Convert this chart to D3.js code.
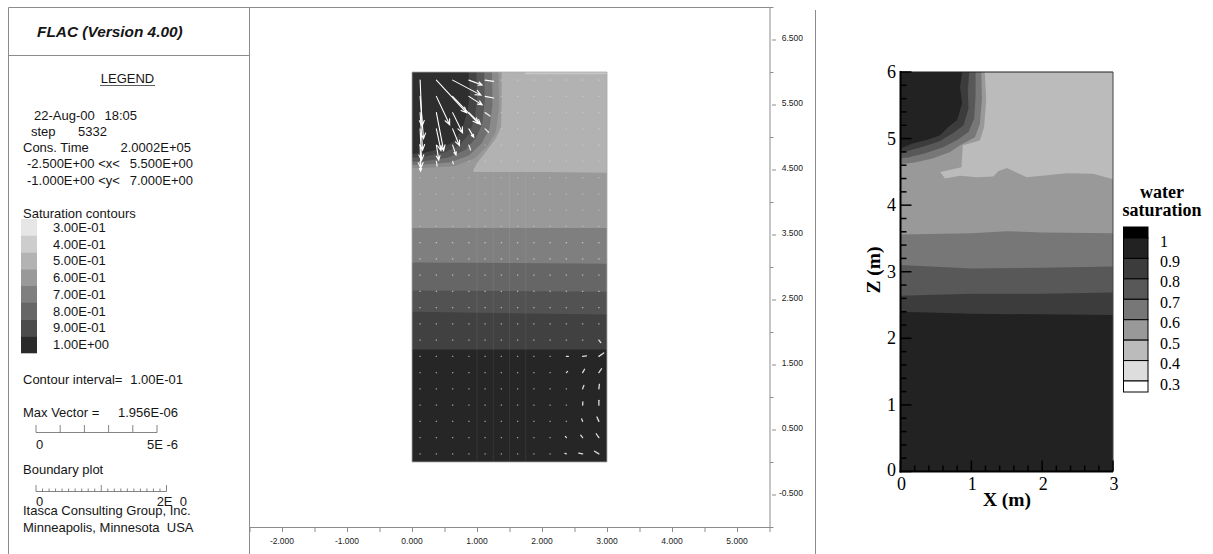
<!DOCTYPE html>
<html>
<head>
<meta charset="utf-8">
<script src="https://cdn.jsdelivr.net/npm/d3@7"></script>
<style>
  body { margin: 0; background: #fff; }
  svg text { white-space: pre; }
</style>
</head>
<body>
<svg id="chart" width="1213" height="554"></svg>
<script>
// ---------------- FLAC panel data ----------------
const flacLegendLabels = ["3.00E-01", "4.00E-01", "5.00E-01", "6.00E-01", "7.00E-01", "8.00E-01", "9.00E-01", "1.00E+00"]
const flacLegendColors = ["#e6e6e6", "#cdcdcd", "#b3b3b3", "#999999", "#7f7f7f", "#666666", "#4c4c4c", "#2a2a2a"]
const flacXTicks = [-2, -1, 0, 1, 2, 3, 4, 5]
const flacYTicks = [-0.5, 0.5, 1.5, 2.5, 3.5, 4.5, 5.5, 6.5]

// horizontal contour bands, each fills from its line up to the top of the block
const flacBandLines = [
    [[0, 1.73], [3, 1.73]],
    [[0, 2.31], [1.5, 2.29], [3, 2.27]],
    [[0, 2.64], [1.5, 2.63], [3, 2.62]],
    [[0, 3.07], [1.5, 3.06], [3, 3.05]],
    [[0, 3.60], [1.5, 3.60], [3, 3.60]]
]
const flacBandColors = ["#414141", "#525252", "#666666", "#7f7f7f", "#999999"]
const flacLightEdge = [[1.38, 6], [1.38, 5.6], [1.37, 5.15], [1.29, 4.98], [1.13, 4.76], [1.0, 4.6], [0.94, 4.49], [0.95, 4.46], [2, 4.46], [3, 4.45]]
const flacTopStrip = [[1.74, 5.965], [3, 5.965], [3, 6], [1.74, 6]]
// saturated corner, outer ring first
const flacRings = [
    [[1.33, 6], [1.34, 5.45], [1.29, 5.08], [1.16, 4.86], [0.96, 4.67], [0.65, 4.55], [0.3, 4.53], [0, 4.52]],
    [[1.23, 6], [1.24, 5.5], [1.19, 5.12], [1.07, 4.9], [0.88, 4.72], [0.6, 4.61], [0.25, 4.58], [0, 4.57]],
    [[1.11, 6], [1.12, 5.55], [1.08, 5.2], [0.98, 4.98], [0.82, 4.8], [0.55, 4.68], [0.2, 4.63], [0, 4.62]],
    [[0.99, 6], [1.0, 5.6], [0.97, 5.3], [0.88, 5.05], [0.74, 4.88], [0.5, 4.76], [0.2, 4.7], [0, 4.68]],
    [[0.87, 6], [0.89, 5.65], [0.85, 5.38], [0.77, 5.12], [0.64, 4.93], [0.45, 4.82], [0.2, 4.76], [0, 4.74]]
]
const flacRingColors = ["#8a8a8a", "#707070", "#585858", "#444444", "#2e2e2e"]

// velocity grid (zone centres) and the non-zero vectors, in 1E-6 m/s
const gridX = [0.125, 0.375, 0.625, 0.875, 1.125, 1.375, 1.625, 1.875, 2.125, 2.375, 2.625, 2.875]
const gridZ = [0.125, 0.375, 0.625, 0.875, 1.125, 1.375, 1.625, 1.875, 2.125, 2.375, 2.625, 2.875,
    3.125, 3.375, 3.625, 3.875, 4.125, 4.375, 4.625, 4.875, 5.125, 5.375, 5.625, 5.875]
const vecX = [0.125, 0.125, 0.125, 0.125, 0.125, 0.125,
    0.375, 0.375, 0.375, 0.375, 0.375, 0.375,
    0.625, 0.625, 0.625, 0.625, 0.625, 0.625,
    0.875, 0.875, 0.875, 0.875, 0.875,
    1.125, 1.125, 1.125, 1.125,
    2.875, 2.375, 2.625, 2.875, 2.375, 2.625, 2.875, 2.625, 2.875, 2.625, 2.875,
    2.625, 2.875, 2.375, 2.625, 2.875, 2.375, 2.625, 2.875]
const vecZ = [5.875, 5.625, 5.375, 5.125, 4.875, 4.625,
    5.875, 5.625, 5.375, 5.125, 4.875, 4.625,
    5.875, 5.625, 5.375, 5.125, 4.875, 4.625,
    5.875, 5.625, 5.375, 5.125, 4.875,
    5.875, 5.625, 5.375, 5.125,
    1.875, 1.625, 1.625, 1.625, 1.375, 1.375, 1.375, 1.125, 1.125, 0.875, 0.875,
    0.625, 0.625, 0.375, 0.375, 0.375, 0.125, 0.125, 0.125]
const vecU = [0.08, 0.14, 0.10, 0.06, 0.03, 0.02,
    1.25, 0.55, 0.30, 0.19, 0.10, 0.03,
    1.17, 1.07, 0.41, 0.28, 0.14, 0.03,
    0.55, 0.55, 0.48, 0.20, 0.07,
    0.35, 0.35, 0.20, 0.14,
    0.08, 0.08, 0.16, 0.20, 0.05, 0.08, 0.11, 0.05, 0.02, 0.01, 0.00,
    -0.04, -0.08, -0.04, -0.08, -0.11, -0.06, -0.16, -0.18]
const vecW = [-1.90, -1.75, -1.55, -1.30, -0.95, -0.40,
    -1.35, -1.17, -1.57, -0.90, -0.62, -0.20,
    -0.62, -1.12, -0.83, -0.69, -0.41, -0.10,
    -0.20, -0.35, -0.48, -0.34, -0.20,
    -0.05, -0.07, -0.14, -0.14,
    -0.10, 0.00, 0.02, 0.14, 0.05, 0.14, 0.16, 0.14, 0.19, 0.13, 0.20,
    0.10, 0.18, 0.05, 0.10, 0.16, 0.02, 0.03, 0.11]

// ---------------- Tecplot panel data ----------------
const tecXTicks = [0, 1, 2, 3]
const tecZTicks = [0, 1, 2, 3, 4, 5, 6]
const tecLegendValues = [1, 0.9, 0.8, 0.7, 0.6, 0.5, 0.4, 0.3]
const tecLegendColors = ["#000000", "#222222", "#3c3c3c", "#585858", "#777777", "#999999", "#bbbbbb", "#dddddd", "#ffffff"]
const tecBandLines = [
    [[0, 2.40], [1, 2.37], [2, 2.36], [3, 2.35]],
    [[0, 2.64], [1, 2.67], [2, 2.67], [3, 2.69]],
    [[0, 3.10], [1, 3.05], [2, 3.06], [3, 3.08]],
    [[0, 3.56], [1, 3.58], [1.5, 3.61], [2, 3.59], [3, 3.58]]
]
const tecBandColors = ["#3c3c3c", "#585858", "#777777", "#999999"]
const tecLightEdge = [[1.19, 6], [1.21, 5.58], [1.18, 5.17], [1.12, 4.97], [0.88, 4.9], [0.86, 4.57], [0.56, 4.5],
    [0.63, 4.40], [0.84, 4.44], [1.08, 4.42], [1.31, 4.43], [1.38, 4.51], [1.5, 4.56], [1.78, 4.42],
    [2.07, 4.45], [2.35, 4.48], [2.72, 4.47], [3.0, 4.39]]
const tecRings = [
    [[1.14, 6], [1.15, 5.6], [1.12, 5.22], [1.05, 5.02], [0.84, 4.9], [0.7, 4.8], [0.45, 4.7], [0.2, 4.64], [0, 4.62]],
    [[1.06, 6], [1.06, 5.65], [1.04, 5.3], [0.96, 5.1], [0.8, 4.98], [0.6, 4.87], [0.35, 4.78], [0.12, 4.72], [0, 4.7]],
    [[0.97, 6], [0.95, 5.72], [0.96, 5.45], [0.89, 5.2], [0.74, 5.08], [0.55, 4.96], [0.35, 4.89], [0.15, 4.83], [0, 4.78]],
    [[0.87, 6], [0.84, 5.77], [0.87, 5.53], [0.8, 5.28], [0.67, 5.17], [0.56, 5.05], [0.37, 4.98], [0.18, 4.93], [0.04, 4.87], [0, 4.85]]
]
const tecRingColors = ["#777777", "#585858", "#3c3c3c", "#222222"]

const svg = d3.select("#chart")
const sans = "'Liberation Sans', Arial, sans-serif"
const serif = "'Liberation Serif', 'Times New Roman', serif"

// =============== FLAC figure ===============
const flacX = d3.scaleLinear().domain([-2.5, 5.5]).range([249.5, 769.5])
const flacY = d3.scaleLinear().domain([-1, 7]).range([527, 7])
const flacPath = d3.line().x(d => flacX(d[0])).y(d => flacY(d[1]))

// frame lines
const frame = svg.append("g").attr("stroke", "#8c8c8c").attr("stroke-width", 1).attr("fill", "none")
frame.append("path").attr("d", "M8.5,554V7.5H770M8.5,55.5H249.5M249.5,7.5V554")
frame.append("line").attr("x1", 815.5).attr("x2", 815.5).attr("y1", 10).attr("y2", 554)

// plot
const plot = svg.append("g")
svg.append("defs").append("clipPath").attr("id", "flacClip")
    .append("path").attr("d", flacPath([[0, 0], [3, 0], [3, 6], [0, 6]]) + "Z")
const contours = plot.append("g").attr("clip-path", "url(#flacClip)")

contours.append("path").attr("d", flacPath([[0, 0], [3, 0], [3, 6], [0, 6]]) + "Z").attr("fill", "#262626")
flacBandLines.forEach((line, i) => {
    contours.append("path")
        .attr("d", flacPath([...line, [3, 6], [0, 6]]) + "Z")
        .attr("fill", flacBandColors[i])
})
contours.append("path").attr("d", flacPath([...flacLightEdge, [3, 6]]) + "Z").attr("fill", "#b2b2b2")
contours.append("path").attr("d", flacPath(flacTopStrip) + "Z").attr("fill", "#c6c6c6")
flacRings.forEach((ring, i) => {
    contours.append("path")
        .attr("d", flacPath([...ring, [0, 6]]) + "Z")
        .attr("fill", flacRingColors[i])
})
// faint zone lines of the mesh
contours.append("g").selectAll("line")
    .data([1.0, 1.25, 1.5, 1.75])
    .enter()
    .append("line")
    .attr("x1", d => flacX(d)).attr("x2", d => flacX(d))
    .attr("y1", flacY(0)).attr("y2", flacY(4.45))
    .attr("stroke", "#ffffff").attr("stroke-opacity", 0.07).attr("stroke-width", 1)
plot.append("path").attr("d", flacPath([[0, 0], [3, 0], [3, 6], [0, 6]]) + "Z")
    .attr("fill", "none").attr("stroke", "#a8a8a8").attr("stroke-width", 0.8)

// vectors: same scale as the legend bar (0..5E-6)
const vecScale = d3.scaleLinear().domain([0, 5]).range([0, 121])
const vecKey = new Set(vecX.map((x, i) => x + "_" + vecZ[i]))

const dots = []
gridZ.forEach(z => gridX.forEach(x => { if (!vecKey.has(x + "_" + z)) dots.push([x, z]) }))
plot.append("g").selectAll("rect")
    .data(dots)
    .enter()
    .append("rect")
    .attr("x", d => flacX(d[0]) - 0.65)
    .attr("y", d => flacY(d[1]) - 0.65)
    .attr("width", 1.3)
    .attr("height", 1.3)
    .attr("fill", "#ffffff")
    .attr("opacity", d => d[1] > 3.6 ? 0.3 : 0.55)

const vectors = vecX.map((x, i) => ({ x: x, z: vecZ[i], u: vecU[i], w: vecW[i] }))
const arrowPath = d => {
    const x0 = flacX(d.x), y0 = flacY(d.z)
    const dx = vecScale(d.u), dy = -vecScale(d.w)
    const len = Math.hypot(dx, dy)
    const x1 = x0 + dx, y1 = y0 + dy
    let p = `M${x0},${y0}L${x1},${y1}`
    if (len > 9) {
        const a = Math.atan2(dy, dx)
        const h = Math.min(6, len * 0.3)
        const h1 = [x1 - h * Math.cos(a - 0.42), y1 - h * Math.sin(a - 0.42)]
        const h2 = [x1 - h * Math.cos(a + 0.42), y1 - h * Math.sin(a + 0.42)]
        p += `M${h1[0]},${h1[1]}L${x1},${y1}L${h2[0]},${h2[1]}`
    }
    return p
}
plot.append("g").selectAll("path")
    .data(vectors)
    .enter()
    .append("path")
    .attr("d", arrowPath)
    .attr("fill", "none")
    .attr("stroke", "#ffffff")
    .attr("stroke-width", d => Math.hypot(d.u, d.w) > 0.35 ? 1.1 : 1.3)
    .attr("stroke-opacity", d => Math.hypot(d.u, d.w) > 0.35 ? 1 : 0.85)
    .attr("stroke-linecap", "round")

// axes
const axes = svg.append("g").attr("stroke", "#8c8c8c").attr("stroke-width", 1)
axes.append("line").attr("x1", 770).attr("x2", 770).attr("y1", 7).attr("y2", 527)
axes.append("line").attr("x1", 249.5).attr("x2", 770).attr("y1", 527.5).attr("y2", 527.5)
axes.selectAll(".xt").data(flacX.ticks(16)).enter().append("line")
    .attr("x1", d => flacX(d) + 0.5).attr("x2", d => flacX(d) + 0.5)
    .attr("y1", 528).attr("y2", 532)
axes.selectAll(".yt").data(flacY.ticks(16)).enter().append("line")
    .attr("x1", d => flacYTicks.includes(d) ? 772 : 770).attr("x2", d => flacYTicks.includes(d) ? 776 : 773.5)
    .attr("y1", d => flacY(d) + 0.5).attr("y2", d => flacY(d) + 0.5)

svg.append("g").selectAll("text").data(flacXTicks).enter().append("text")
    .attr("x", d => flacX(d)).attr("y", 544)
    .attr("text-anchor", "middle")
    .attr("font-family", sans).attr("font-size", 8.5).attr("fill", "#222")
    .text(d => d.toFixed(3))
svg.append("g").selectAll("text").data(flacYTicks).enter().append("text")
    .attr("x", 803).attr("y", d => flacY(d) + 1)
    .attr("text-anchor", "end")
    .attr("font-family", sans).attr("font-size", 8.5).attr("fill", "#222")
    .text(d => d.toFixed(3))

// legend panel
const leg = svg.append("g").attr("font-family", sans).attr("font-size", 13).attr("fill", "#151515")
leg.append("text").attr("x", 37).attr("y", 37)
    .attr("font-size", 15.4).attr("font-weight", "bold").attr("font-style", "italic")
    .text("FLAC (Version 4.00)")
leg.append("text").attr("x", 127.5).attr("y", 82.5).attr("text-anchor", "middle").text("LEGEND")
leg.append("line").attr("x1", 100).attr("x2", 155).attr("y1", 85.5).attr("y2", 85.5)
    .attr("stroke", "#333").attr("stroke-width", 0.8)

// [left text, left x, right text, right end x]
const infoLines = [
    ["22-Aug-00", 34, "18:05", 137],
    ["step", 31, "5332", 107],
    ["Cons. Time", 23, "2.0002E+05", 191],
    ["-2.500E+00 <x<", 27, "5.500E+00", 193],
    ["-1.000E+00 <y<", 27, "7.000E+00", 193]
]
infoLines.forEach((p, i) => {
    leg.append("text").attr("x", p[1]).attr("y", 119.5 + i * 16.3).text(p[0])
    leg.append("text").attr("x", p[3]).attr("y", 119.5 + i * 16.3).attr("text-anchor", "end").text(p[2])
})
leg.append("text").attr("x", 23).attr("y", 217.5).text("Saturation contours")

const swatch = d3.scaleBand().domain(flacLegendLabels).range([219, 353])
leg.selectAll("rect").data(flacLegendLabels).enter().append("rect")
    .attr("x", 21).attr("y", d => swatch(d)).attr("width", 16).attr("height", swatch.bandwidth() + 0.3)
    .attr("fill", (d, i) => flacLegendColors[i])
leg.selectAll(".lab").data(flacLegendLabels).enter().append("text")
    .attr("x", 53).attr("y", d => swatch(d) + swatch.bandwidth() / 2 + 4.5)
    .text(d => d)

leg.append("text").attr("x", 23).attr("y", 383.5).text("Contour interval=")
leg.append("text").attr("x", 183).attr("y", 383.5).attr("text-anchor", "end").text("1.00E-01")
leg.append("text").attr("x", 23).attr("y", 416.5).text("Max Vector =")
leg.append("text").attr("x", 178).attr("y", 416.5).attr("text-anchor", "end").text("1.956E-06")

// vector scale bar
const barG = leg.append("g").attr("stroke", "#666").attr("stroke-width", 0.8)
barG.append("line").attr("x1", 36).attr("x2", 36 + vecScale(5)).attr("y1", 432.5).attr("y2", 432.5)
barG.selectAll("line.t").data(vecScale.ticks(5)).enter().append("line")
    .attr("x1", d => 36 + vecScale(d)).attr("x2", d => 36 + vecScale(d))
    .attr("y1", 425).attr("y2", 432.5)
leg.append("text").attr("x", 36).attr("y", 449).text("0")
leg.append("text").attr("x", 178).attr("y", 449).attr("text-anchor", "end").text("5E -6")

leg.append("text").attr("x", 23).attr("y", 473.5).text("Boundary plot")
const bndScale = d3.scaleLinear().domain([0, 2]).range([36, 166.5])
const bndG = leg.append("g").attr("stroke", "#666").attr("stroke-width", 0.8)
bndG.append("line").attr("x1", 36).attr("x2", 166.5).attr("y1", 491.5).attr("y2", 491.5)
bndG.selectAll("line.t").data(bndScale.ticks(20)).enter().append("line")
    .attr("x1", d => bndScale(d)).attr("x2", d => bndScale(d))
    .attr("y1", d => Number.isInteger(Math.round(d * 10) / 10) ? 485 : 488.5).attr("y2", 491.5)
leg.append("text").attr("x", 36).attr("y", 506).text("0")
leg.append("text").attr("x", 187).attr("y", 506).attr("text-anchor", "end").text("2E  0")
leg.append("text").attr("x", 23).attr("y", 514.5).text("Itasca Consulting Group, Inc.")
leg.append("text").attr("x", 23).attr("y", 532).text("Minneapolis, Minnesota  USA")

// =============== Tecplot figure ===============
const tecX = d3.scaleLinear().domain([0, 3]).range([900.5, 1113])
const tecY = d3.scaleLinear().domain([0, 6]).range([471.5, 72])
const tecPath = d3.line().x(d => tecX(d[0])).y(d => tecY(d[1]))

const tec = svg.append("g")
tec.append("path").attr("d", tecPath([[0, 0], [3, 0], [3, 6], [0, 6]]) + "Z").attr("fill", "#222222")
tecBandLines.forEach((line, i) => {
    tec.append("path").attr("d", tecPath([...line, [3, 6], [0, 6]]) + "Z").attr("fill", tecBandColors[i])
})
tec.append("path").attr("d", tecPath([...tecLightEdge, [3, 6]]) + "Z").attr("fill", "#bbbbbb")
tecRings.forEach((ring, i) => {
    tec.append("path").attr("d", tecPath([...ring, [0, 6]]) + "Z").attr("fill", tecRingColors[i])
})

// frame and ticks
tec.append("line").attr("x1", tecX(0)).attr("x2", tecX(3)).attr("y1", tecY(6)).attr("y2", tecY(6))
    .attr("stroke", "#222").attr("stroke-width", 1)
tec.append("line").attr("x1", tecX(3)).attr("x2", tecX(3)).attr("y1", tecY(6)).attr("y2", tecY(0))
    .attr("stroke", "#444").attr("stroke-width", 1)
tec.append("line").attr("x1", tecX(0)).attr("x2", tecX(0)).attr("y1", tecY(6) - 1).attr("y2", tecY(0) + 1)
    .attr("stroke", "#000").attr("stroke-width", 2)
tec.append("line").attr("x1", tecX(0) - 1).attr("x2", tecX(3)).attr("y1", tecY(0)).attr("y2", tecY(0))
    .attr("stroke", "#000").attr("stroke-width", 2)

const tk = tec.append("g").attr("stroke", "#000").attr("stroke-width", 1.5)
tk.selectAll(".zt").data(tecY.ticks(30)).enter().append("line")
    .attr("x1", tecX(0)).attr("x2", d => tecX(0) + (tecZTicks.includes(d) ? 11 : 6))
    .attr("y1", d => tecY(d)).attr("y2", d => tecY(d))
tk.selectAll(".xt").data(tecX.ticks(15)).enter().append("line")
    .attr("x1", d => tecX(d)).attr("x2", d => tecX(d))
    .attr("y1", tecY(0)).attr("y2", d => tecY(0) - (tecXTicks.includes(d) ? 11 : 6))

const tt = svg.append("g").attr("font-family", serif).attr("font-size", 18).attr("fill", "#000")
tt.selectAll(".zl").data(tecZTicks).enter().append("text")
    .attr("x", 896).attr("y", d => tecY(d) + 6 - (d === 0 ? 2 : 0))
    .attr("text-anchor", "end").text(d => d)
tt.selectAll(".xl").data(tecXTicks).enter().append("text")
    .attr("x", d => tecX(d) + 1).attr("y", 489.5)
    .attr("text-anchor", "middle").text(d => d)
tt.append("text").attr("x", 1007).attr("y", 506).attr("text-anchor", "middle")
    .attr("font-weight", "bold").attr("font-size", 19.5).text("X (m)")
tt.append("text").attr("transform", "translate(880,270) rotate(-90)").attr("text-anchor", "middle")
    .attr("font-weight", "bold").attr("font-size", 19.5).text("Z (m)")

// legend
const legY = d3.scaleLinear().domain([1, 0.3]).range([238, 381])
const boxes = tecLegendColors.map((c, i) => ({
    c: c,
    top: i === 0 ? legY(1) - 11 : legY(tecLegendValues[i - 1]),
    bottom: i === tecLegendColors.length - 1 ? legY(0.3) + 11 : legY(tecLegendValues[i])
}))
tec.selectAll(".lb").data(boxes).enter().append("rect")
    .attr("x", 1123.5).attr("width", 24.5)
    .attr("y", d => d.top).attr("height", d => d.bottom - d.top)
    .attr("fill", d => d.c).attr("stroke", "#000").attr("stroke-width", 1)
tt.selectAll(".ll").data(tecLegendValues).enter().append("text")
    .attr("x", 1160).attr("y", d => legY(d) + 8.5)
    .attr("font-size", 16).text(d => d)
tt.append("text").attr("x", 1162).attr("y", 197.5).attr("text-anchor", "middle")
    .attr("font-weight", "bold").attr("font-size", 18).text("water")
tt.append("text").attr("x", 1162).attr("y", 216).attr("text-anchor", "middle")
    .attr("font-weight", "bold").attr("font-size", 18).text("saturation")
</script>
</body>
</html>
